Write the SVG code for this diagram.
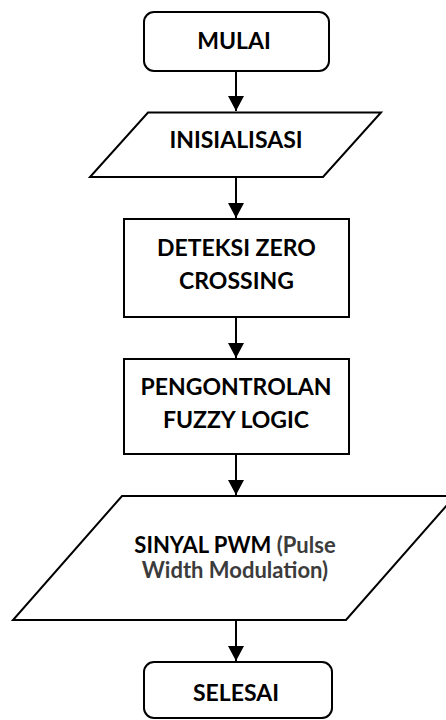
<svg xmlns="http://www.w3.org/2000/svg" width="446" height="720" viewBox="0 0 446 720">
  <style>
    .shape { fill: #ffffff; stroke: #000000; stroke-width: 2; }
    .wire { stroke: #000000; stroke-width: 2; fill: none; }
    .label { font-family: Lato, "Open Sans", "Liberation Sans", sans-serif; font-weight: bold; font-size: 23px; fill: #000000; text-anchor: middle; }
    .small { font-size: 22px; }
    .soft { fill: #3c3c3c; }
  </style>
  <defs>
    <marker id="arrowhead" markerWidth="16" markerHeight="16" refX="15" refY="8" orient="auto" markerUnits="userSpaceOnUse">
      <path d="M0,0 L15,8 L0,16 Z" fill="#000000"/>
    </marker>
  </defs>
  <rect width="446" height="720" fill="#ffffff"/>

  <!-- flow connectors -->
  <g id="connectors">
    <line class="wire" x1="236" y1="71" x2="236" y2="111" marker-end="url(#arrowhead)"/>
    <line class="wire" x1="236" y1="177" x2="236" y2="218" marker-end="url(#arrowhead)"/>
    <line class="wire" x1="236" y1="317" x2="236" y2="358" marker-end="url(#arrowhead)"/>
    <line class="wire" x1="236" y1="454" x2="236" y2="495" marker-end="url(#arrowhead)"/>
    <line class="wire" x1="236" y1="620" x2="236" y2="661" marker-end="url(#arrowhead)"/>
  </g>

  <g id="mulai">
    <rect class="shape" x="144" y="12" width="185" height="59" rx="10" ry="10"/>
    <text class="label" x="234" y="49">MULAI</text>
  </g>

  <g id="inisialisasi">
    <polygon class="shape" points="148,112.5 381,112.5 323,177 90,177"/>
    <text class="label" x="236" y="148">INISIALISASI</text>
  </g>

  <g id="deteksi">
    <rect class="shape" x="124" y="219" width="225" height="98"/>
    <text class="label" x="236.5" y="256">DETEKSI ZERO</text>
    <text class="label" x="236.5" y="289">CROSSING</text>
  </g>

  <g id="pengontrolan">
    <rect class="shape" x="124" y="359" width="225" height="95"/>
    <text class="label" x="236" y="395">PENGONTROLAN</text>
    <text class="label" x="236" y="428">FUZZY LOGIC</text>
  </g>

  <g id="sinyal-pwm">
    <polygon class="shape" points="122,496 455,496 346,620 13,620"/>
    <text class="label small" x="235" y="553">SINYAL PWM <tspan class="soft">(Pulse</tspan></text>
    <text class="label small soft" x="235" y="578">Width Modulation)</text>
  </g>

  <g id="selesai">
    <rect class="shape" x="144" y="662" width="188" height="56" rx="10" ry="10"/>
    <text class="label" x="236" y="701">SELESAI</text>
  </g>
</svg>
